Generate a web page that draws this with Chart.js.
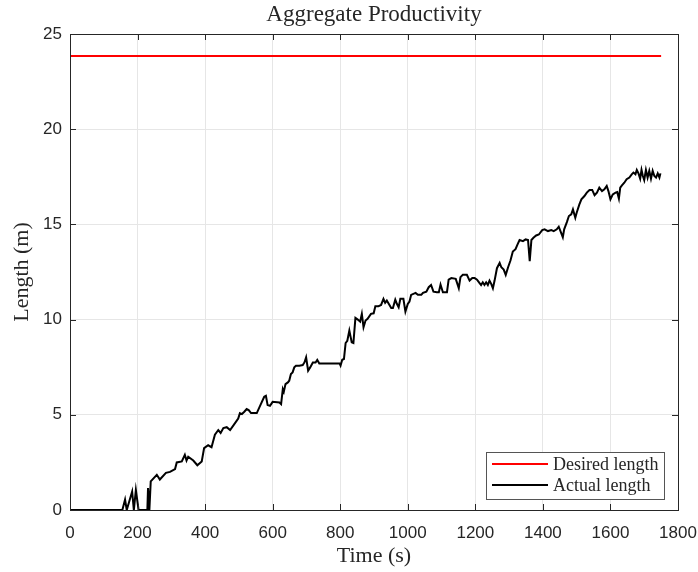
<!DOCTYPE html>
<html>
<head>
<meta charset="utf-8">
<script src="https://cdn.jsdelivr.net/npm/chart.js@4/dist/chart.umd.min.js"></script>
<style>
html,body{margin:0;padding:0;background:#fff;}
#wrap{width:698px;height:572px;}
</style>
</head>
<body>
<div id="wrap"><canvas id="c" width="698" height="572"></canvas></div>
<script>
const chartTitle = "Aggregate Productivity";
const xAxisTitle = "Time (s)";
const yAxisTitle = "Length (m)";
const seriesLabels = ["Desired length", "Actual length"];

const desiredTimes = [0, 1750];
const desiredLength = [23.84, 23.84];

const actualTimes = [
  0, 155, 163, 168, 184, 189, 195, 203, 229, 231, 235, 239, 257, 266, 284, 296, 311, 316, 331, 340,
  345, 350, 365, 377, 390, 397, 409, 419, 429, 439, 446, 454, 464, 474, 488, 498, 503, 509, 516, 523,
  529, 536, 553, 565, 575, 580, 585, 592, 600, 620, 625, 630, 633, 638, 645, 649, 654, 659, 664, 669,
  679, 689, 694, 699, 705, 711, 719, 727, 732, 738, 798, 801, 806, 811, 816, 821, 827, 830, 834, 839,
  845, 852, 859, 864, 869, 875, 881, 891, 899, 904, 913, 921, 928, 933, 938, 944, 951, 956, 963, 968,
  973, 978, 987, 993, 1000, 1005, 1010, 1023, 1030, 1040, 1045, 1055, 1062, 1069, 1076, 1086, 1092, 1097, 1104, 1116,
  1121, 1129, 1142, 1151, 1156, 1163, 1175, 1183, 1191, 1198, 1205, 1212, 1217, 1222, 1227, 1232, 1237, 1242, 1247, 1252,
  1257, 1264, 1272, 1277, 1284, 1290, 1297, 1304, 1311, 1319, 1325, 1331, 1341, 1349, 1356, 1361, 1366, 1372, 1380, 1388,
  1398, 1405, 1415, 1425, 1432, 1441, 1447, 1454, 1459, 1463, 1471, 1477, 1484, 1489, 1496, 1500, 1508, 1514, 1523, 1530,
  1538, 1546, 1553, 1560, 1567, 1575, 1582, 1589, 1594, 1600, 1607, 1615, 1620, 1625, 1629, 1634, 1641, 1648, 1656, 1663,
  1668, 1674, 1678, 1683, 1688, 1692, 1696, 1700, 1705, 1710, 1715, 1720, 1725, 1730, 1735, 1740, 1745, 1748
];
const actualLength = [
  0, 0, 0.55, 0, 0.97, 0, 1.05, 0, 0, 1.15, 0, 1.5, 1.85, 1.6, 1.95, 2.0, 2.15, 2.5, 2.55, 2.9,
  2.6, 2.8, 2.6, 2.35, 2.55, 3.25, 3.4, 3.3, 3.95, 4.2, 4.05, 4.3, 4.35, 4.2, 4.55, 4.8, 5.09, 5.04, 5.16, 5.3,
  5.25, 5.09, 5.09, 5.56, 5.95, 6.0, 5.51, 5.47, 5.68, 5.65, 5.56, 6.35, 6.21, 6.61, 6.7, 6.79, 7.14, 7.23, 7.49, 7.58,
  7.58, 7.61, 7.75, 8.02, 7.32, 7.49, 7.75, 7.75, 7.88, 7.7, 7.7, 7.58, 7.89, 7.93, 8.77, 8.89, 9.42, 9.16, 8.81, 8.77,
  10.09, 10.0, 9.89, 10.3, 9.6, 9.95, 10.04, 10.3, 10.33, 10.7, 10.7, 10.77, 11.09, 10.88, 11.0, 10.82, 10.61, 10.61, 11.05, 10.82,
  10.65, 11.09, 11.09, 10.42, 10.82, 10.95, 11.3, 11.4, 11.3, 11.3, 11.4, 11.47, 11.7, 11.82, 11.47, 11.44, 11.44, 11.84, 11.44, 11.44,
  12.1, 12.18, 12.14, 11.65, 12.23, 12.35, 12.35, 12.05, 12.18, 12.18, 12.1, 11.93, 11.82, 11.96, 11.82, 11.96, 11.82, 12.05, 11.88, 11.65,
  12.05, 12.7, 12.98, 12.75, 12.63, 12.35, 12.75, 13.1, 13.58, 13.7, 13.95, 14.18, 14.12, 14.21, 14.18, 13.07, 14.18, 14.3, 14.42, 14.47,
  14.7, 14.74, 14.65, 14.7, 14.65, 14.74, 14.88, 14.56, 14.33, 14.74, 15.12, 15.44, 15.53, 15.79, 15.35, 15.61, 16.05, 16.32, 16.49, 16.67,
  16.81, 16.81, 16.53, 16.67, 16.93, 16.75, 16.84, 17.02, 16.75, 16.32, 16.58, 16.67, 16.7, 16.35, 16.93, 17.05, 17.19, 17.37, 17.46, 17.63,
  17.72, 17.63, 17.86, 17.68, 17.4, 17.86, 17.54, 17.33, 17.86, 17.46, 17.81, 17.4, 17.81, 17.54, 17.46, 17.68, 17.46, 17.68
];

const xMin = 0, xMax = 1800, xStep = 200;
const yMin = 0, yMax = 25, yStep = 5;

const axisColor = '#262626';
const gridColor = '#e6e6e6';
const tickFont = {family: '"Liberation Sans", Arial, sans-serif', size: 17};
const serif = '"Liberation Serif", "Times New Roman", serif';

function toPoints(xs, ys) { return xs.map((x, i) => ({x: x, y: ys[i]})); }

const boxPlugin = {
  id: 'boxTicks',
  afterDraw(chart) {
    const ctx = chart.ctx;
    const a = chart.chartArea;
    const xs = chart.scales.x, ys = chart.scales.y;
    const tl = 6;
    ctx.save();
    // title centred over the axes
    ctx.fillStyle = axisColor;
    ctx.font = '23px ' + serif;
    ctx.textAlign = 'center';
    ctx.textBaseline = 'middle';
    ctx.fillText(chartTitle, (a.left + a.right) / 2, 15);

    ctx.strokeStyle = axisColor;
    ctx.lineWidth = 1;
    ctx.beginPath();
    xs.ticks.forEach(t => {
      const px = Math.round(xs.getPixelForValue(t.value)) + 0.5;
      ctx.moveTo(px, a.bottom); ctx.lineTo(px, a.bottom - tl);
      ctx.moveTo(px, a.top); ctx.lineTo(px, a.top + tl);
    });
    ys.ticks.forEach(t => {
      const py = Math.round(ys.getPixelForValue(t.value)) + 0.5;
      ctx.moveTo(a.left, py); ctx.lineTo(a.left + tl, py);
      ctx.moveTo(a.right, py); ctx.lineTo(a.right - tl, py);
    });
    ctx.stroke();
    ctx.strokeRect(Math.round(a.left) + 0.5, Math.round(a.top) + 0.5, Math.round(a.right - a.left), Math.round(a.bottom - a.top));

    // legend
    const fs = 18;
    ctx.font = fs + 'px ' + serif;
    const ds = chart.data.datasets;
    let tw = 0;
    ds.forEach(d => { tw = Math.max(tw, ctx.measureText(d.label).width); });
    const lineLen = 56, padL = 6, gap = 5, padR = 6, rowH = 21, padT = 12;
    const w = padL + lineLen + gap + tw + padR;
    const h = padT + rowH * (ds.length - 1) + 14;
    const bx = Math.round(a.right - 14 - w), by = Math.round(a.bottom - 11 - h);
    ctx.fillStyle = '#fff';
    ctx.fillRect(bx, by, w, h);
    ctx.strokeStyle = '#555';
    ctx.lineWidth = 1;
    ctx.strokeRect(bx + 0.5, by + 0.5, Math.round(w), Math.round(h));
    ds.forEach((d, i) => {
      const ly = by + padT + i * rowH;
      ctx.strokeStyle = d.borderColor;
      ctx.lineWidth = 2;
      ctx.beginPath();
      ctx.moveTo(bx + padL, ly); ctx.lineTo(bx + padL + lineLen, ly);
      ctx.stroke();
      ctx.fillStyle = axisColor;
      ctx.textBaseline = 'middle';
      ctx.textAlign = 'left';
      ctx.fillText(d.label, bx + padL + lineLen + gap, ly + 1);
    });
    ctx.restore();
  }
};

new Chart(document.getElementById('c'), {
  type: 'line',
  data: {
    datasets: [
      {label: seriesLabels[0], data: toPoints(desiredTimes, desiredLength), borderColor: '#ff0000', borderWidth: 2, pointRadius: 0, tension: 0, fill: false},
      {label: seriesLabels[1], data: toPoints(actualTimes, actualLength), borderColor: '#000000', borderWidth: 2, pointRadius: 0, tension: 0, fill: false}
    ]
  },
  options: {
    responsive: false,
    animation: false,
    devicePixelRatio: 1,
    layout: {padding: {left: 0, right: 20, top: 34, bottom: 0}},
    plugins: {
      legend: {display: false},
      tooltip: {enabled: false},
      title: {display: false}
    },
    scales: {
      x: {
        type: 'linear', min: xMin, max: xMax,
        ticks: {stepSize: xStep, color: axisColor, font: tickFont, padding: 13, maxRotation: 0,
                callback: v => String(v)},
        grid: {color: gridColor, lineWidth: 1, drawTicks: false},
        border: {display: false},
        title: {display: true, text: xAxisTitle, color: axisColor, font: {family: serif, size: 22}, padding: {top: 0, bottom: 3}},
        afterFit(s) { s.height = 62; s.paddingLeft = 0; s.paddingRight = 0; }
      },
      y: {
        type: 'linear', min: yMin, max: yMax,
        ticks: {stepSize: yStep, color: axisColor, font: tickFont, padding: 8},
        grid: {color: gridColor, lineWidth: 1, drawTicks: false},
        border: {display: false},
        title: {display: true, text: yAxisTitle, color: axisColor, font: {family: serif, size: 22}, padding: {top: 9, bottom: 0}},
        afterFit(s) { s.width = 70; s.paddingTop = 0; s.paddingBottom = 0; }
      }
    }
  },
  plugins: [boxPlugin]
});
</script>
</body>
</html>
